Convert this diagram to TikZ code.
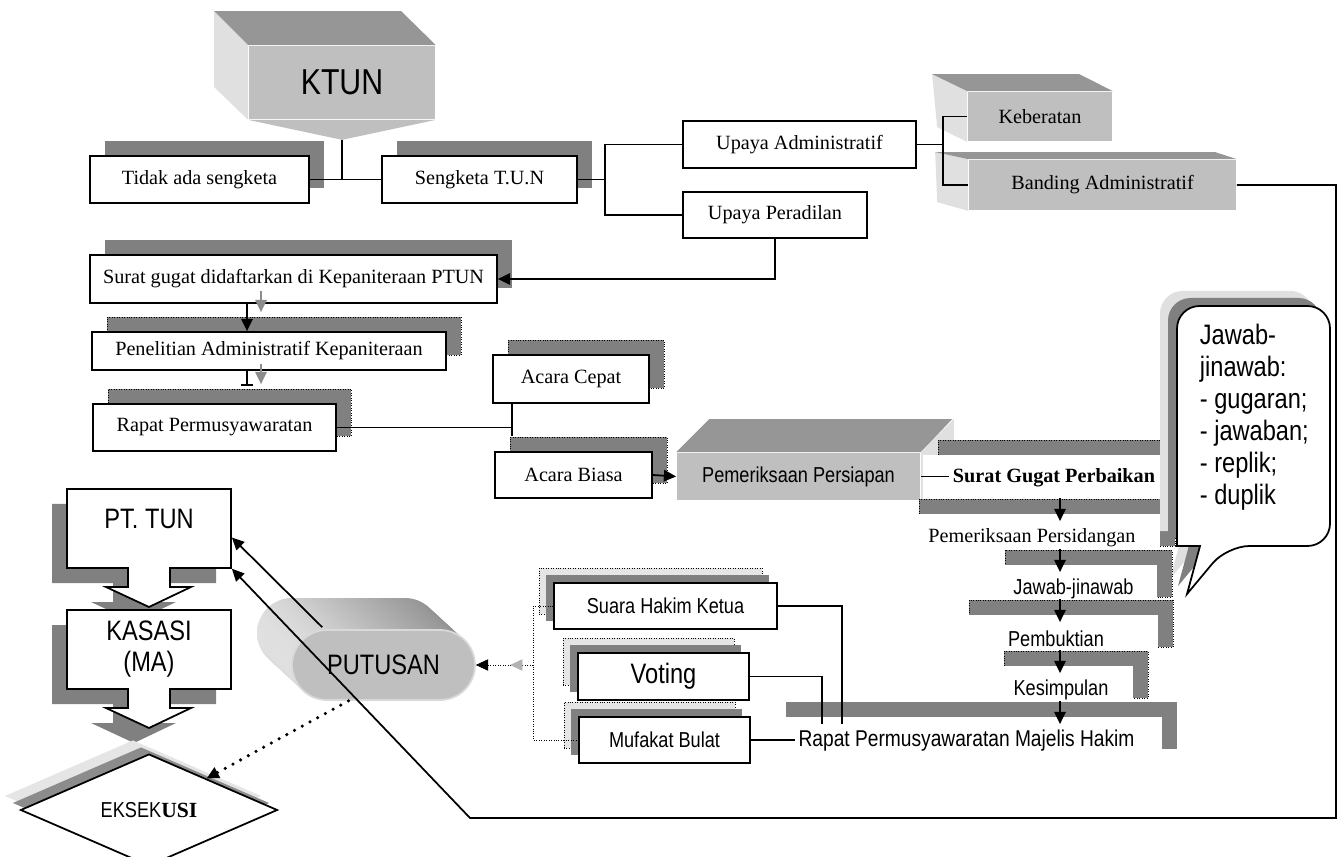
\documentclass[tikz,border=0pt]{standalone}
\usepackage{fontspec}
\setmainfont{Liberation Serif}
\newfontfamily\narrowsf[FakeStretch=0.84]{Liberation Sans}
\usetikzlibrary{arrows.meta, calc, shapes.geometric, shadows, decorations.markings}

\tikzset{
    tms/.style={font=\fontsize{11.5}{13}\selectfont},
    tmsb/.style={font=\fontsize{11.5}{13}\selectfont\bfseries},
    nar/.style={font=\narrowsf\fontsize{12.3}{14}\selectfont},
    bignar/.style={font=\narrowsf\fontsize{16}{18}\selectfont},
    box/.style={draw, fill=white, inner sep=0pt, minimum height=0.94cm},
    stepnode/.style={fill=white, inner sep=0pt, minimum height=0.94cm},
    front/.style={fill=black!25, inner sep=0pt},
    topface/.style={fill=black!41},
    sideface/.style={fill=black!12},
    dshadow/.style={general shadow={fill=black!50, shadow xshift=0.3cm, shadow yshift=0.3cm}},
    dotshadow/.style={general shadow={fill=black!50, draw=black, thin, densely dotted, shadow xshift=0.3cm, shadow yshift=0.3cm}},
    twoshadow/.style={general shadow={fill=black!10, draw=black, thin, densely dotted, shadow xshift=-0.3cm, shadow yshift=0.3cm},
                      general shadow={fill=black!50, shadow xshift=-0.16cm, shadow yshift=0.16cm}},
    callshadow/.style={general shadow={fill=black!12, shadow xshift=-0.34cm, shadow yshift=0.3cm},
                       general shadow={fill=black!50, shadow xshift=-0.18cm, shadow yshift=0.16cm}},
    diashadow/.style={general shadow={fill=black!10, shadow xshift=-0.32cm, shadow yshift=0.28cm},
                      general shadow={fill=black!45, shadow xshift=-0.16cm, shadow yshift=0.14cm}},
    arr/.style={-{Triangle[length=7pt, width=6.5pt]}},
    garr/.style={black!45, -{Triangle[length=7pt, width=6.5pt]}},
}

\begin{document}
\begin{tikzpicture}[x=0.02cm, y=-0.02cm, line width=1pt]
        \useasboundingbox (0, 0) rectangle (1341, 857);
        % KTUN
        \node [front, minimum width=3.72cm, minimum height=1.46cm, font=\narrowsf\fontsize{20.5}{24}\selectfont] (ktun) at (342, 82.5) {KTUN};
        \coordinate (ktip) at ($(ktun.south)+(0, 20)$);
        \fill [sideface] (ktun.north west) -- ++(-34, -34) -- ++(0, 76) -- (ktun.south west) -- cycle;
        \fill [topface] (ktun.north west) -- ++(-34, -34) -- ++(187, 0) -- (ktun.north east) -- cycle;
        \fill [black!25] (ktun.south west) -- (ktip) -- (ktun.south east) -- cycle;
        % Tidak ada sengketa / Sengketa
        \node [box, tms, dshadow, minimum width=4.38cm] (tid) at (199.5, 179.5) {Tidak ada sengketa};
        \node [box, tms, dshadow, minimum width=3.9cm] (sen) at (479.5, 179.5) {Sengketa T.U.N};
        \draw (ktip) -- (ktip |- tid.east);
        \draw (tid.east) -- (sen.west);
        % Upaya
        \node [box, tms, minimum width=4.66cm] (ua) at (799.5, 144.5) {Upaya Administratif};
        \node [box, tms, minimum width=3.68cm, minimum height=0.92cm] (up) at (775, 215) {Upaya Peradilan};
        \draw (sen.east) -- ++(27, 0) |- (ua.west);
        \draw (sen.east) -- ++(27, 0) |- (up.west);
        % Keberatan
        \node [front, tms, minimum width=2.88cm, minimum height=0.98cm] (keb) at (1040, 116.5) {Keberatan};
        \fill [sideface] (keb.north west) -- ++(-35, -17) -- ++(5, 53) -- (keb.south west) -- cycle;
        \fill [topface] (keb.north west) -- ++(-35, -17) -- ++(147, 0) -- (keb.north east) -- cycle;
        % Banding
        \node [front, tms, minimum width=5.34cm, minimum height=1cm] (band) at (1102.5, 185) {Banding Administratif};
        \fill [sideface] (band.north west) -- ++(-33, -7) -- ++(2, 50) -- (band.south west) -- cycle;
        \fill [topface] (band.north west) -- ++(-33, -7) -- ++(280, 0) -- (band.north east) -- cycle;
        \draw (ua.east) -- ++(26, 0) |- (keb.west);
        \draw (ua.east) -- ++(26, 0) |- (band.west);
        % Left column
        \node [box, tms, dshadow, minimum width=8.14cm, minimum height=0.96cm] (sgd) at (293.5, 279) {Surat gugat didaftarkan di Kepaniteraan PTUN};
        \draw [arr] (up.south) |- (sgd.east);
        \node [box, tms, dotshadow, minimum width=7.08cm, minimum height=0.76cm] (pak) at (269, 351) {Penelitian Administratif Kepaniteraan};
        \node [box, tms, dotshadow, minimum width=4.86cm] (rp) at (214.5, 427.5) {Rapat Permusyawaratan};
        \coordinate (lane1) at (247, 0);
        \coordinate (lane2) at (261, 0);
        \draw [arr] (sgd.south -| lane1) -- (pak.north -| lane1);
        \draw [garr] ($(sgd.south -| lane2)+(0, -13)$) -- ($(pak.north -| lane2)+(0, -19)$);
        \draw [-{Bar[width=7pt]}] (pak.south -| lane1) -- ($(rp.north -| lane1)+(0, -17)$);
        \draw [garr] ($(pak.south -| lane2)+(0, -7)$) -- ($(rp.north -| lane2)+(0, -19)$);
        % Acara
        \node [box, tms, dotshadow, minimum width=3.12cm, minimum height=0.96cm] (ac) at (571, 379) {Acara Cepat};
        \node [box, tms, dotshadow, minimum width=3.14cm, minimum height=0.92cm] (ab) at (573.5, 475) {Acara Biasa};
        \coordinate (split) at (512, 427.5);
        \draw (rp.east) -- (split);
        \draw (split |- ac.south) -- ($(split |- ab.north)+(0, -15)$);
        % Pemeriksaan Persiapan
        \node [front, nar, minimum width=4.86cm, minimum height=0.94cm] (pps) at (798.5, 476.5) {Pemeriksaan Persiapan};
        \fill [topface] (pps.north west) -- ++(33, -33) -- ++(243, 0) -- (pps.north east) -- cycle;
        \fill [sideface] (pps.north east) -- ++(33, -33) -- ++(0, 47) -- (pps.south east) -- cycle;
        \draw [arr] (ab.east) -- (pps.west);
        % Steps
        \node [stepnode, tmsb, dotshadow, minimum width=5.24cm, minimum height=0.9cm] (sgp) at (1054, 477.5) {Surat Gugat Perbaikan};
        \draw [shorten >=2pt] (pps.east) -- (pps.east -| sgp.text);
        \node [stepnode, tms, dotshadow, minimum width=5.12cm] (pp) at (1032, 537.5) {Pemeriksaan Persidangan};
        % Callout
        \path [draw, fill=white, callshadow] (1177, 437) [rounded corners=0.45cm] -- (1177, 306) -- (1330, 306) -- (1330, 546) -- (1227, 546)
            [sharp corners] -- (1187, 594) -- (1200, 546) -- (1177, 546) [rounded corners=0.45cm] -- cycle;
        \node [anchor=north west, inner sep=0pt, align=left, font=\narrowsf\fontsize{16}{18.2}\selectfont] (jtxt) at (1199, 323)
            {Jawab-\\jinawab:\\- gugaran;\\- jawaban;\\- replik;\\- duplik};
        \node [stepnode, nar, dotshadow, minimum width=3.34cm] (jj) at (1073.5, 588.5) {Jawab-jinawab};
        \node [stepnode, nar, dotshadow, minimum width=4.08cm] (pb) at (1056, 638.5) {Pembuktian};
        \node [stepnode, nar, dotshadow, minimum width=2.88cm] (ks) at (1061, 689.5) {Kesimpulan};
        \node [stepnode, dshadow, minimum width=7.82cm, font=\narrowsf\fontsize{13}{15}\selectfont] (rpmh) at (966.5, 740.5) {Rapat Permusyawaratan Majelis Hakim};
        \coordinate (spine) at (1060, 0);
        \foreach \n in {pp, jj, pb, ks, rpmh}
            \draw [arr] ($(\n.north -| spine)+(0, -15)$) -- ($(\n.north -| spine)+(0, 8)$);
        % Suara / Voting / Mufakat
        \node [box, nar, twoshadow, minimum width=4.46cm, minimum height=0.92cm] (sua) at (665.5, 606) {Suara Hakim Ketua};
        \node [box, twoshadow, minimum width=3.42cm, font=\narrowsf\fontsize{16}{18}\selectfont] (vot) at (663.5, 676.5) {Voting};
        \node [box, nar, twoshadow, minimum width=3.42cm, minimum height=0.92cm] (muf) at (664.5, 740) {Mufakat Bulat};
        \draw (sua.east) -| ($(rpmh.north west)+(72, 8)$);
        \draw (vot.east) -| ($(rpmh.north west)+(52, 8)$);
        \draw [shorten >=2pt] (muf.east) -- (muf.east -| rpmh.text);
        % PUTUSAN
        \foreach \k in {0,...,14}
            \shade [left color=black!12, right color=black!45, rounded corners=0.7cm] (257+2.5*\k, 598+2.3*\k) rectangle ++(183, 70);
        \node [front, draw=black!15, rounded corners=0.7cm, minimum width=3.66cm, minimum height=1.4cm, bignar] (put) at (383.5, 665) {PUTUSAN};
        \coordinate (brk) at (533, 665);
        \draw [thin, densely dotted] (sua.west) -| (brk) |- (muf.west);
        \draw [thin, densely dotted, arr, postaction={decorate},
            decoration={markings, mark=at position 0.4 with {\arrow[black!30]{Triangle[length=7pt, width=6.5pt]}}}] (brk) -- (put.east);
        % PT. TUN and KASASI
        \foreach \dy in {0, 121} {
            \fill [black!50, shift={(-15, \dy+15)}] (67, 489) -- (231, 489) -- (231, 568) -- (170, 568) -- (170, 587) -- (191, 587)
                -- (149, 607) -- (106, 587) -- (128, 587) -- (128, 568) -- (67, 568) -- cycle;
            \filldraw [fill=white, shift={(0, \dy)}] (67, 489) -- (231, 489) -- (231, 568) -- (170, 568) -- (170, 587) -- (191, 587)
                -- (149, 607) -- (106, 587) -- (128, 587) -- (128, 568) -- (67, 568) -- cycle;
        }
        \node [bignar, inner sep=0pt, minimum width=3.28cm, text height=22.4pt, text depth=22.4pt] (pttun) at (149, 528.5) {PT. TUN};
        \node [bignar, inner sep=0pt, minimum width=3.28cm, minimum height=1.56cm, align=center] (kas) at (149, 649) {KASASI\\(MA)};
        % EKSEKUSI
        \node [diamond, draw, fill=white, inner sep=0pt, minimum width=5.14cm, minimum height=1.86cm, diashadow, nar] (eks) at (149, 810)
            {EKSEK{\rmfamily\bfseries USI}};
        \draw [line width=2pt, line cap=round, dash pattern=on 0pt off 5pt, arr] ($(put.south)+(-35, 0)$) -- (eks);
        % Back to PT. TUN
        \coordinate (cor1) at (1336, 818);
        \coordinate (cor2) at (470, 818);
        \draw [arr] (band.east) -| (cor1) -- (cor2) -- (pttun.south east);
        \draw [arr] ($(put.north west)+(31, -2)$) -- ($(pttun.east)+(0, 9)$);
    \end{tikzpicture}
\end{document}
